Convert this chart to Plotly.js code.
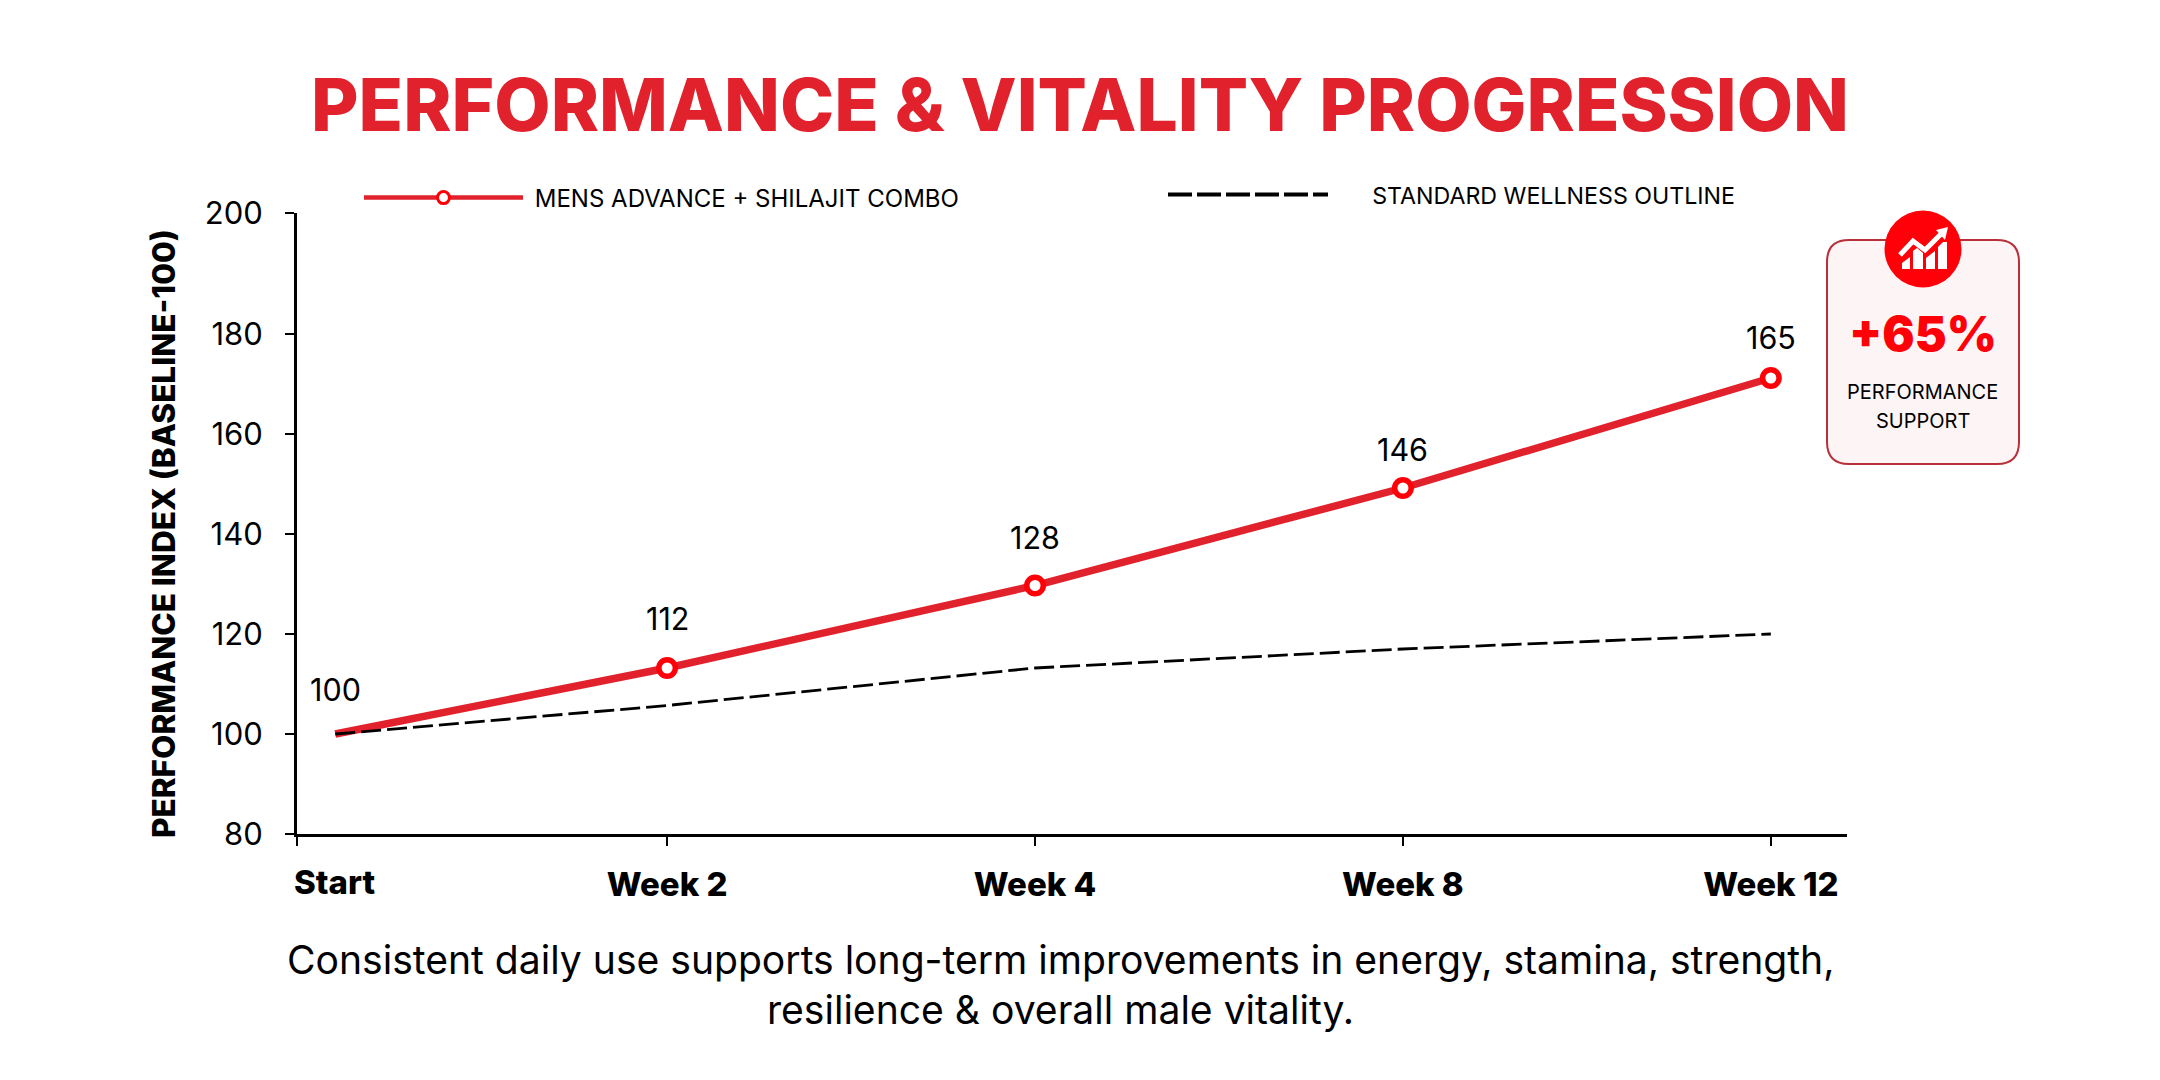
<!DOCTYPE html>
<html>
<head>
<meta charset="utf-8">
<script src="https://cdn.plot.ly/plotly-3.0.1.min.js"></script>
<style>
  html, body { margin: 0; padding: 0; background: #fff; }
</style>
</head>
<body>
<div id="chart" style="width:2160px;height:1080px;"></div>
<script>
// positions on the x axis: Start sits a little right of the axis corner
const xPositions = [0.098, 1, 2, 3, 4];
const weekLabels = ['Start', 'Week 2', 'Week 4', 'Week 8', 'Week 12'];
const comboValues = [100, 113.2, 129.7, 149.2, 171.2];
const comboLabels = ['100', '112', '128', '146', '165'];
const standardValues = [100, 105.7, 113.2, 117, 120];
const yTickLabels = ['80', '100', '120', '140', '160', '180', '200'];
const yTickValues = [80, 100, 120, 140, 160, 180, 204.2];
const captionLines = [
    'Consistent daily use supports long-term improvements in energy, stamina, strength,',
    'resilience & overall male vitality.'
];

const W = 2160, H = 1080;
const RED = '#e1212c', PURE_RED = '#ff0008';
const FONT = 'Inter, "Noto Sans", sans-serif';
const X_MIN = -0.006;

// pixel helpers for the callout, which lives on paper coordinates
const plot = { l: 297, r: 1847, t: 213, b: 834 };
const px = x => +((x - plot.l) / (plot.r - plot.l)).toFixed(5);
const py = y => +((plot.b - y) / (plot.b - plot.t)).toFixed(5);
const pathOf = pts => pts.map((p, i) => (i ? 'L' : 'M') + px(p[0]) + ',' + py(p[1])).join(' ') + ' Z';

function roundRect(x0, y0, x1, y1, r) {
    return `M${px(x0 + r)},${py(y0)} L${px(x1 - r)},${py(y0)} Q${px(x1)},${py(y0)} ${px(x1)},${py(y0 + r)} ` +
        `L${px(x1)},${py(y1 - r)} Q${px(x1)},${py(y1)} ${px(x1 - r)},${py(y1)} ` +
        `L${px(x0 + r)},${py(y1)} Q${px(x0)},${py(y1)} ${px(x0)},${py(y1 - r)} ` +
        `L${px(x0)},${py(y0 + r)} Q${px(x0)},${py(y0)} ${px(x0 + r)},${py(y0)} Z`;
}

const iconFill = p => ({ type: 'path', xref: 'paper', yref: 'paper', path: pathOf(p), fillcolor: '#fff', line: { width: 0 }, layer: 'above' });

const shapes = [
    { type: 'path', xref: 'paper', yref: 'paper', path: roundRect(1827, 240, 2019, 464, 22), fillcolor: '#fdf5f5', line: { color: '#b9303a', width: 2 }, layer: 'above' },
    { type: 'circle', xref: 'paper', yref: 'paper', x0: px(1884.5), x1: px(1961.5), y0: py(287.5), y1: py(210.5), fillcolor: PURE_RED, line: { width: 0 }, layer: 'above' },
    // little chart icon
    iconFill([[1902, 263], [1910, 257], [1910, 269], [1902, 269]]),
    iconFill([[1913, 251], [1917, 248], [1923, 253], [1923, 269], [1913, 269]]),
    iconFill([[1926, 258], [1935, 251], [1935, 269], [1926, 269]]),
    iconFill([[1938, 247], [1943, 242], [1947, 242], [1947, 269], [1938, 269]]),
    { type: 'path', xref: 'paper', yref: 'paper', path: `M${px(1900)},${py(255)} L${px(1913)},${py(241)} L${px(1925)},${py(250)} L${px(1943)},${py(232)}`, fillcolor: 'rgba(0,0,0,0)', line: { color: '#fff', width: 5 }, layer: 'above' },
    iconFill([[1936, 230], [1948, 227], [1945, 240]])
];

const annotation = (text, x, y, size, extra) => Object.assign({
    text, x: px(x), y: py(y), xref: 'paper', yref: 'paper', showarrow: false,
    xanchor: 'center', yanchor: 'middle', font: { family: FONT, size, color: '#000' }
}, extra || {});

const labelShift = [45, 50, 48, 39, 41];

const annotations = [
    ...comboLabels.map((t, i) => ({
        text: t, x: xPositions[i], y: comboValues[i], xref: 'x', yref: 'y', showarrow: false,
        yshift: labelShift[i], font: { family: FONT, size: 30.5, color: '#000' }
    })),
    annotation(weekLabels[0], 335, 882, 33, { font: { family: FONT, size: 33, color: '#000', weight: 800 } }),
    annotation('PERFORMANCE INDEX (BASELINE-100)', 163, 534, 31.5, { textangle: -90, font: { family: FONT, size: 31.5, color: '#000', weight: 800 } }),
    annotation(captionLines[0], 1061, 959, 39.1),
    annotation(captionLines[1], 1061, 1010, 39.1),
    annotation('+65%', 1923, 333, 48, { font: { family: FONT, size: 48, color: PURE_RED, weight: 900 } }),
    annotation('PERFORMANCE', 1923, 392, 20),
    annotation('SUPPORT', 1923, 421, 20)
];

const traces = [
    {
        x: xPositions, y: comboValues, type: 'scatter', mode: 'lines+markers',
        showlegend: false,
        line: { color: RED, width: 7.5 },
        // no ring on the Start point
        marker: { size: [0, 16.5, 16.5, 16.5, 16.5], opacity: 1, color: '#fff', line: { color: PURE_RED, width: [0, 5.5, 5.5, 5.5, 5.5] } }
    },
    {
        x: xPositions, y: standardValues, type: 'scatter', mode: 'lines',
        showlegend: false,
        line: { color: '#000', width: 2.8, dash: '20px,6px' }
    },
    // legend keys are drawn heavier than the lines in the plot
    {
        x: [null], y: [null], type: 'scatter', mode: 'lines+markers', legend: 'legend',
        name: '\u00A0MENS ADVANCE + SHILAJIT COMBO',
        line: { color: RED, width: 4.5 },
        marker: { size: 12, color: '#fff', line: { color: PURE_RED, width: 3 } }
    },
    {
        x: [null], y: [null], type: 'scatter', mode: 'lines', legend: 'legend2',
        name: '\u00A0\u00A0\u00A0\u00A0\u00A0\u00A0STANDARD WELLNESS OUTLINE',
        line: { color: '#000', width: 4, dash: '24px,5px' }
    }
];

const layout = {
    width: W, height: H,
    paper_bgcolor: '#fff', plot_bgcolor: '#fff',
    margin: { l: plot.l, r: W - plot.r, t: plot.t, b: H - plot.b, pad: 0, autoexpand: false },
    font: { family: FONT, color: '#000' },
    title: {
        text: 'PERFORMANCE &amp; VITALITY PROGRESSION',
        xref: 'container', yref: 'container', x: 0.5, y: 1 - 105 / H,
        xanchor: 'center', yanchor: 'middle',
        font: { family: FONT, size: 73, color: RED, weight: 800 }
    },
    showlegend: true,
    legend: {
        xref: 'paper', yref: 'paper', x: px(359), y: py(198), xanchor: 'left', yanchor: 'middle',
        itemwidth: 159, bgcolor: 'rgba(0,0,0,0)', font: { family: FONT, size: 24, color: '#000' }
    },
    legend2: {
        xref: 'paper', yref: 'paper', x: px(1163), y: py(195), xanchor: 'left', yanchor: 'middle',
        itemwidth: 160, bgcolor: 'rgba(0,0,0,0)', font: { family: FONT, size: 23.2, color: '#000' }
    },
    xaxis: {
        range: [X_MIN, 4.207], showgrid: false, zeroline: false,
        showline: true, linecolor: '#000', linewidth: 3,
        ticks: 'outside', ticklen: 9, tickwidth: 2, tickcolor: '#000',
        tickmode: 'array', tickvals: [X_MIN, 1, 2, 3, 4], ticktext: [''].concat(weekLabels.slice(1)),
        tickfont: { family: FONT, size: 33, color: '#000', weight: 800 },
        ticklabelstandoff: 10
    },
    yaxis: {
        range: [80, 204.2], showgrid: false, zeroline: false,
        showline: true, linecolor: '#000', linewidth: 3,
        ticks: 'outside', ticklen: 9, tickwidth: 2, tickcolor: '#000',
        tickmode: 'array', tickvals: yTickValues, ticktext: yTickLabels,
        tickfont: { family: FONT, size: 31, color: '#000' },
        ticklabelstandoff: 16
    },
    shapes, annotations
};

Plotly.newPlot('chart', traces, layout, { displayModeBar: false, staticPlot: true });
</script>
</body>
</html>
